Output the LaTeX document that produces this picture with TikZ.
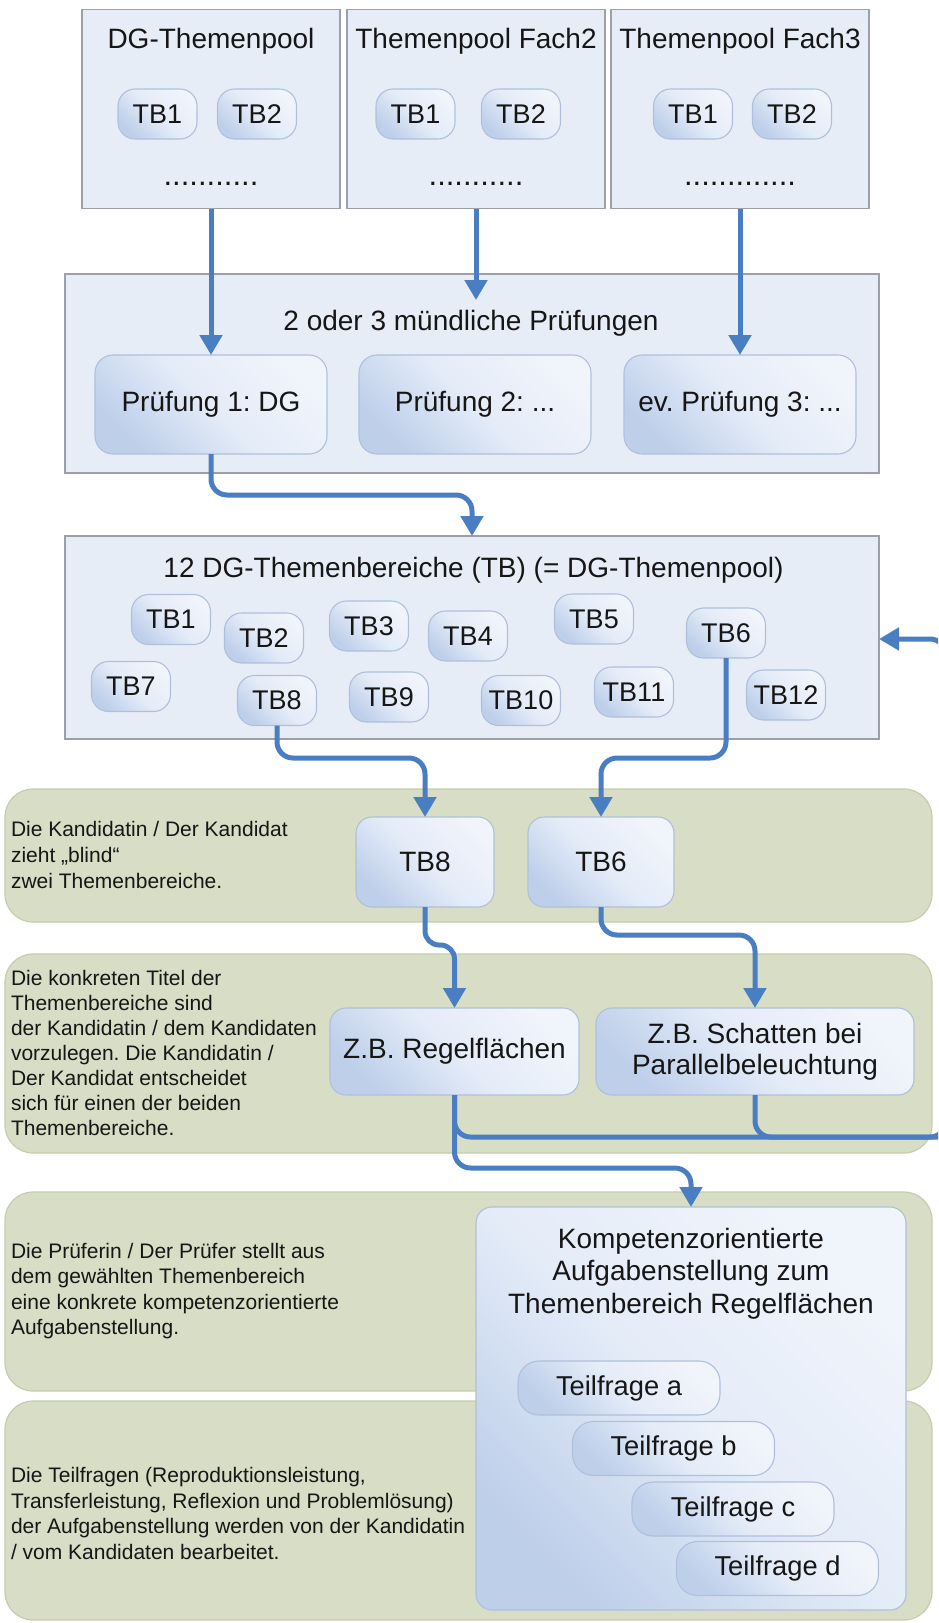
\documentclass[tikz,border=0pt]{standalone}
\usepackage{fontspec}
\setmainfont{Liberation Sans}
\usetikzlibrary{arrows.meta}
\definecolor{arrowblue}{RGB}{74,126,194}
\definecolor{boxfill}{RGB}{231,237,247}
\definecolor{boxdraw}{RGB}{158,160,168}
\definecolor{pillA}{RGB}{240,244,251}
\definecolor{pillM}{RGB}{228,236,248}
\definecolor{pillB}{RGB}{190,207,234}
\definecolor{pilldraw}{RGB}{176,192,218}
\definecolor{bandfill}{RGB}{216,222,197}
\definecolor{banddraw}{RGB}{198,205,172}
\definecolor{txt}{RGB}{22,22,22}
\newcommand\myfs[2]{\fontsize{#1}{#2}\selectfont}
\frenchspacing
\begin{document}
\begin{tikzpicture}[x=1pt,y=-1pt,
  every node/.style={text=txt, inner sep=0pt, outer sep=0pt},
  poolbox/.style={draw=boxdraw, fill=boxfill, line width=1.3pt},
  ttl/.style={font=\myfs{28}{32}},
  dotrow/.style={font=\myfs{31}{33}, anchor=base},
  shadedbox/.style={draw=pilldraw, line width=1.1pt, top color=pillA, bottom color=pillB, middle color=pillM, shading angle=-45},
  smallpill/.style={shadedbox, rounded corners=17pt, minimum width=79pt, minimum height=50pt, font=\myfs{27}{30}},
  prbox/.style={shadedbox, rounded corners=18pt, minimum width=232pt, minimum height=99pt, font=\myfs{28}{31}},
  bigbox/.style={shadedbox, rounded corners=16pt, font=\myfs{28}{31}, align=center},
  tfbox/.style={shadedbox, rounded corners=21pt, minimum width=202pt, minimum height=54pt, font=\myfs{27.3}{30}},
  band/.style={draw=banddraw, fill=bandfill, line width=1.2pt, rounded corners=28pt, minimum width=927pt},
  bandtext/.style={anchor=west, align=left},
  arr/.style={draw=arrowblue, line width=5pt, rounded corners=16pt, -{Triangle[width=22pt,length=20pt]}},
  plainline/.style={draw=arrowblue, line width=5pt, rounded corners=16pt}
]
\clip (0,0) rectangle (938,1623);
\fill[white] (0,0) rectangle (938,1623);

% ---- top pools
\node[poolbox, minimum width=258pt, minimum height=199pt] (pool1) at (211,109.3) {};
\node[poolbox, minimum width=258pt, minimum height=199pt] (pool2) at (476,109.3) {};
\node[poolbox, minimum width=258pt, minimum height=199pt] (pool3) at (740,109.3) {};
\node[ttl] (pool1t) at (211,41.5) {DG-Themenpool};
\node[ttl] (pool2t) at (476,41.5) {Themenpool Fach2};
\node[ttl] (pool3t) at (740,41.5) {Themenpool Fach3};
\node[smallpill] (p1a) at (157.5,114) {TB1};
\node[smallpill] (p1b) at (257,114) {TB2};
\node[smallpill] (p2a) at (415.5,114) {TB1};
\node[smallpill] (p2b) at (521,114) {TB2};
\node[smallpill] (p3a) at (693,114) {TB1};
\node[smallpill] (p3b) at (792,114) {TB2};
\node[dotrow] (p1d) at (211,185) {...........};
\node[dotrow] (p2d) at (476,185) {...........};
\node[dotrow] (p3d) at (740,185) {.............};

% ---- exams
\node[poolbox, minimum width=814pt, minimum height=199pt] (exams) at (472,373.5) {};
\node[ttl] (examst) at (471,323) {2 oder 3 mündliche Prüfungen};
\node[prbox] (pr1) at (211,404.5) {Prüfung 1: DG};
\node[prbox] (pr2) at (475,404.5) {Prüfung 2: ...};
\node[prbox] (pr3) at (740,404.5) {ev. Prüfung 3: ...};

% ---- TB pool
\node[poolbox, minimum width=814pt, minimum height=203pt] (tbpool) at (472,637.5) {};
\node[ttl] (tbpoolt) at (473.5,570) {12 DG-Themenbereiche (TB) (= DG-Themenpool)};
\node[smallpill] (tb1) at (171,619.5) {TB1};
\node[smallpill] (tb2) at (264,638) {TB2};
\node[smallpill] (tb3) at (369,626) {TB3};
\node[smallpill] (tb4) at (468,636) {TB4};
\node[smallpill] (tb5) at (594,619) {TB5};
\node[smallpill] (tb6) at (726,633) {TB6};
\node[smallpill] (tb7) at (131,686.5) {TB7};
\node[smallpill] (tb8) at (277,700.5) {TB8};
\node[smallpill] (tb9) at (389,697) {TB9};
\node[smallpill] (tb10) at (521,700.5) {TB10};
\node[smallpill] (tb11) at (634,692) {TB11};
\node[smallpill] (tb12) at (786,695) {TB12};

% ---- bands
\node[band, minimum height=133pt] (band1) at (468.5,855.5) {};
\node[band, minimum height=199pt] (band2) at (468.5,1053.5) {};
\node[band, minimum height=199pt] (band3) at (468.5,1291.5) {};
\node[band, minimum height=219pt] (band4) at (468.5,1510.5) {};

\node[bandtext, font=\myfs{21}{26}] (b1t) at (11,855) {Die Kandidatin / Der Kandidat\\zieht „blind“\\zwei Themenbereiche.};
\node[bandtext, font=\myfs{21}{25}] (b2t) at (11,1053) {Die konkreten Titel der\\Themenbereiche sind\\der Kandidatin / dem Kandidaten\\vorzulegen. Die Kandidatin /\\Der Kandidat entscheidet\\sich für einen der beiden\\Themenbereiche.};
\node[bandtext, font=\myfs{21}{25.3}] (b3t) at (11,1291) {Die Prüferin / Der Prüfer stellt aus\\dem gewählten Themenbereich\\eine konkrete kompetenzorientierte\\Aufgabenstellung.};
\node[bandtext, font=\myfs{21}{25.7}] (b4t) at (11,1513.5) {Die Teilfragen (Reproduktionsleistung,\\Transferleistung, Reflexion und Problemlösung)\\der Aufgabenstellung werden von der Kandidatin\\/ vom Kandidaten bearbeitet.};

% ---- chosen topics
\node[bigbox, minimum width=138pt, minimum height=90pt] (big8) at (425,862) {TB8};
\node[bigbox, minimum width=146pt, minimum height=90pt] (big6) at (601,862) {TB6};
\node[bigbox, minimum width=249pt, minimum height=87pt] (regel) at (454.5,1051.5) {Z.B. Regelflächen};
\node[bigbox, minimum width=318pt, minimum height=87pt] (schatten) at (755,1051.5) {Z.B. Schatten bei\\Parallelbeleuchtung};

% ---- task
\node[bigbox, minimum width=430pt, minimum height=403pt] (komp) at (691,1408.5) {};
\node[font=\myfs{28}{32.5}, align=center] (kompt) at (691,1273.5) {Kompetenzorientierte\\Aufgabenstellung zum\\Themenbereich Regelflächen};
\node[tfbox] (tfa) at (619,1388) {Teilfrage a};
\node[tfbox] (tfb) at (673.5,1448.5) {Teilfrage b};
\node[tfbox] (tfc) at (733,1509) {Teilfrage c};
\node[tfbox] (tfd) at (777.5,1568.5) {Teilfrage d};

% ---- connectors
\coordinate (c2) at (476,300);
\coordinate (loopA) at (946,1137);
\coordinate (loopB) at (946,639);
\draw[arr] (pool1.south) -- (pr1.north);
\draw[arr] (pool2.south) -- (c2);
\draw[arr] (pool3.south) -- (pr3.north);
\draw[arr] (pr1.south) -- (211,495) -| (tbpool.north);
\draw[arr] (tb8.south) -- (277,758) -| (big8.north);
\draw[arr] (tb6.south) -- (726,758) -| (big6.north);
\draw[arr, rounded corners=14pt] (big8.south) -- (425,945) -| (regel.north);
\draw[arr] (big6.south) -- (601,935) -| (schatten.north);
\draw[plainline] (schatten.south) |- (loopA);
\draw[arr] (regel.south) |- (loopA) -- (loopB) -- (tbpool.east |- loopB);
\draw[arr] (regel.south) -- (454.5,1168) -| (komp.north);
\end{tikzpicture}
\end{document}
